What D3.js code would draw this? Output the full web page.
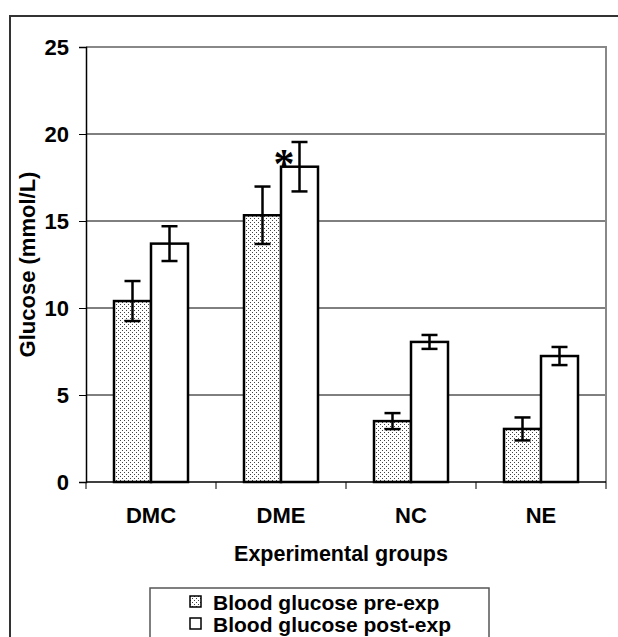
<!DOCTYPE html>
<html>
<head>
<meta charset="utf-8">
<script src="https://cdn.jsdelivr.net/npm/d3@7"></script>
<style>
	body { margin: 0; background: #fff; }
	text { font-family: "Liberation Sans", Arial, sans-serif; font-weight: bold; }
</style>
</head>
<body>
<div id="div"></div>
<script>
let w = 618, h = 637,
	margins = {top: 47, bottom: 482, left: 86, right: 606},
	fontSize = 21, tickFont = 22

// data
let categories = ["DMC", "DME", "NC", "NE"]
let series = ["Blood glucose pre-exp", "Blood glucose post-exp"]
let preValues = [10.4, 15.33, 3.5, 3.05]
let preErrors = [1.15, 1.65, 0.46, 0.66]
let postValues = [13.7, 18.12, 8.05, 7.24]
let postErrors = [1.0, 1.42, 0.4, 0.52]
let yTicks = [0, 5, 10, 15, 20, 25]
let starred = [{cat: "DME", serie: 1}]

let rows = []
categories.forEach((c, i) => {
	rows.push({cat: c, serie: 0, value: preValues[i], err: preErrors[i]})
	rows.push({cat: c, serie: 1, value: postValues[i], err: postErrors[i]})
})

let svg = d3.select("#div").append("svg")
	.attr("width", w)
	.attr("height", h)

// stipple pattern for the pre-exp bars
let pat = svg.append("defs").append("pattern")
	.attr("id", "dots")
	.attr("patternUnits", "userSpaceOnUse")
	.attr("width", 4)
	.attr("height", 4)
pat.append("rect").attr("width", 4).attr("height", 4).attr("fill", "#fff")
pat.append("rect").attr("x", 0).attr("y", 0).attr("width", 1).attr("height", 1).attr("fill", "#444")
pat.append("rect").attr("x", 2).attr("y", 2).attr("width", 1).attr("height", 1).attr("fill", "#444")

let fills = ["url(#dots)", "#fff"]

// outer chart frame (cut off at right and bottom)
svg.append("rect")
	.attr("x", 10)
	.attr("y", 16)
	.attr("width", 800)
	.attr("height", 800)
	.attr("fill", "none")
	.attr("stroke", "#333")
	.attr("stroke-width", 2)

// scales
let x = d3.scaleBand()
	.domain(categories)
	.range([margins.left, margins.right])

let x1 = d3.scaleBand()
	.domain([0, 1])
	.range([28, 102])

let y = d3.scaleLinear()
	.domain([0, 25])
	.range([margins.bottom, margins.top])

// gridlines
svg.append("g")
	.selectAll("line")
	.data(yTicks.filter(t => t > 0 && t < 25))
	.enter()
	.append("line")
	.attr("x1", margins.left)
	.attr("x2", margins.right)
	.attr("y1", d => y(d))
	.attr("y2", d => y(d))
	.attr("stroke", "#000")
	.attr("stroke-width", 1)

// plot area border (top + right, grey)
svg.append("path")
	.attr("d", "M" + margins.left + "," + y(25) + "H" + margins.right + "V" + margins.bottom)
	.attr("fill", "none")
	.attr("stroke", "#888")
	.attr("stroke-width", 2)

// bars
svg.append("g")
	.selectAll("rect")
	.data(rows)
	.enter()
	.append("rect")
	.attr("x", d => x(d.cat) + x1(d.serie))
	.attr("y", d => y(d.value))
	.attr("width", x1.bandwidth())
	.attr("height", d => y(0) - y(d.value))
	.attr("fill", d => fills[d.serie])
	.attr("stroke", "#000")
	.attr("stroke-width", 2.5)

// error bars
let errs = svg.append("g")
	.attr("stroke", "#000")
	.attr("stroke-width", 2.5)
	.selectAll("g")
	.data(rows)
	.enter()
	.append("g")
	.attr("transform", d => "translate(" + (x(d.cat) + x1(d.serie) + x1.bandwidth() / 2) + ",0)")
errs.append("line")
	.attr("y1", d => y(d.value + d.err))
	.attr("y2", d => y(d.value - d.err))
errs.append("line")
	.attr("x1", -8).attr("x2", 8)
	.attr("y1", d => y(d.value + d.err))
	.attr("y2", d => y(d.value + d.err))
errs.append("line")
	.attr("x1", -8).attr("x2", 8)
	.attr("y1", d => y(d.value - d.err))
	.attr("y2", d => y(d.value - d.err))

// significance star
svg.append("g")
	.selectAll("text")
	.data(starred)
	.enter()
	.append("text")
	.attr("x", d => x(d.cat) + x1(d.serie) + 3)
	.attr("y", d => y(postValues[categories.indexOf(d.cat)]) + 11)
	.attr("text-anchor", "middle")
	.style("font-family", "'Liberation Serif', 'DejaVu Serif', serif")
	.style("font-weight", "bold")
	.style("font-size", "42px")
	.text("*")

// y axis
let yAxis = d3.axisLeft(y)
	.tickValues(yTicks)
	.tickSize(7)
	.tickPadding(10)
let gy = svg.append("g")
	.attr("transform", "translate(" + margins.left + ",0)")
	.call(yAxis)
gy.select(".domain").attr("stroke", "#000").attr("stroke-width", 1.5)
gy.selectAll(".tick line").attr("stroke", "#000")
gy.selectAll("text")
	.attr("fill", "#000")
	.style("font-size", tickFont + "px")
	.style("font-family", "'Liberation Sans', Arial, sans-serif")
	.style("font-weight", "bold")

// x axis: ticks at category boundaries
svg.append("line")
	.attr("x1", margins.left)
	.attr("x2", margins.right)
	.attr("y1", y(0))
	.attr("y2", y(0))
	.attr("stroke", "#000")
	.attr("stroke-width", 1.5)
svg.append("g")
	.selectAll("line")
	.data(categories.map(c => x(c)).concat([x.range()[1]]))
	.enter()
	.append("line")
	.attr("x1", d => d)
	.attr("x2", d => d)
	.attr("y1", y(0))
	.attr("y2", y(0) + 7)
	.attr("stroke", "#000")

svg.append("g")
	.selectAll("text")
	.data(categories)
	.enter()
	.append("text")
	.attr("x", d => x(d) + x.bandwidth() / 2)
	.attr("y", 523)
	.attr("text-anchor", "middle")
	.style("font-size", tickFont + "px")
	.text(d => d)

// axis titles
svg.append("text")
	.attr("x", 341)
	.attr("y", 561)
	.attr("text-anchor", "middle")
	.style("font-size", "21.5px")
	.text("Experimental groups")

svg.append("text")
	.attr("transform", "rotate(-90)")
	.attr("x", -(margins.top + margins.bottom) / 2)
	.attr("y", 35)
	.attr("text-anchor", "middle")
	.style("font-size", tickFont + "px")
	.text("Glucose (mmol/L)")

// legend
let legend = svg.append("g")
legend.append("rect")
	.attr("x", 150)
	.attr("y", 588)
	.attr("width", 339)
	.attr("height", 100)
	.attr("fill", "#fff")
	.attr("stroke", "#555")
	.attr("stroke-width", 1.5)

let items = legend.selectAll(".item")
	.data(series)
	.enter()
	.append("g")
	.attr("transform", (d, i) => "translate(190," + (596 + i * 22) + ")")
items.append("rect")
	.attr("width", 11)
	.attr("height", 11)
	.attr("fill", (d, i) => fills[i])
	.attr("stroke", "#000")
	.attr("stroke-width", 1.5)
items.append("text")
	.attr("x", 23)
	.attr("y", 14)
	.style("font-size", fontSize + "px")
	.text(d => d)
</script>
</body>
</html>
